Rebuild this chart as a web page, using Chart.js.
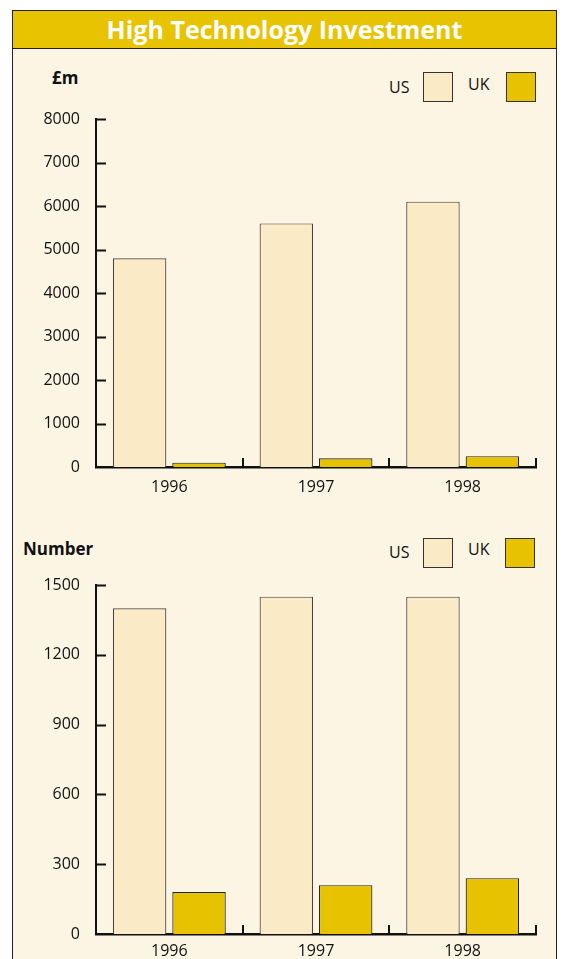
<!DOCTYPE html>
<html>
<head>
<meta charset="utf-8">
<script src="https://cdn.jsdelivr.net/npm/chart.js@4"></script>
<style>
    body { margin: 0; background: #ffffff; font-family: "Open Sans", sans-serif; }
    #page { position: relative; width: 566px; height: 959px; overflow: hidden; }
    .frame { position: absolute; left: 12px; top: 10px; width: 543px; height: 960px;
             border: 1.5px solid #222; background: #fdf5e4; }
    .title { position: absolute; left: 12px; top: 10px; width: 545px; height: 39px;
             background: #e8c300; border: 1.5px solid #222; box-sizing: border-box;
             color: #fff; font-weight: bold; font-size: 25px; text-align: center; line-height: 36px; }
    .unit { position: absolute; font-weight: bold; font-size: 17px; color: #111; }
    .leg-text { position: absolute; font-size: 16px; color: #111; }
    .leg-box { position: absolute; width: 28px; height: 28px; border: 1px solid #333; }
    canvas { position: absolute; left: 0; }
</style>
</head>
<body>
<div id="page">
    <div class="frame"></div>
    <div class="title">High Technology Investment</div>

    <div class="unit" style="left:52px; top:66px;">£m</div>
    <div class="leg-text" style="left:389px; top:76px;">US</div>
    <div class="leg-box" style="left:423px; top:72px; background:#faebc6;"></div>
    <div class="leg-text" style="left:468px; top:73px;">UK</div>
    <div class="leg-box" style="left:506px; top:72px; background:#e6c200;"></div>

    <div class="unit" style="left:23px; top:537px;">Number</div>
    <div class="leg-text" style="left:389px; top:541px;">US</div>
    <div class="leg-box" style="left:423px; top:538px; background:#faebc6;"></div>
    <div class="leg-text" style="left:468px; top:538px;">UK</div>
    <div class="leg-box" style="left:505px; top:538px; background:#e6c200;"></div>

    <canvas id="moneyChart" style="top:50px;" width="566" height="450"></canvas>
    <canvas id="numberChart" style="top:510px;" width="566" height="449"></canvas>
</div>

<script>
// Data
const years = ['1996', '1997', '1998'];
const usInvestment = [4800, 5600, 6100];
const ukInvestment = [100, 200, 250];
const usNumber = [1400, 1450, 1450];
const ukNumber = [180, 210, 240];
const moneyTicks = [0, 1000, 2000, 3000, 4000, 5000, 6000, 7000, 8000];
const numberTicks = [0, 300, 600, 900, 1200, 1500];

const usColor = '#faebc6';
const ukColor = '#e6c200';
const inkColor = '#111';

// Tick marks that point into the plot, like the printed chart
const innerTicks = {
    id: 'innerTicks',
    afterDatasetsDraw(chart) {
        const ctx = chart.ctx;
        const x = chart.scales.x;
        const y = chart.scales.y;
        ctx.save();
        ctx.strokeStyle = inkColor;
        ctx.lineWidth = 2;
        y.ticks.forEach(t => {
            if (t.value === 0) return;
            const py = Math.round(y.getPixelForValue(t.value)) + 0.5;
            ctx.beginPath();
            ctx.moveTo(y.right - 1, py);
            ctx.lineTo(y.right + 10, py);
            ctx.stroke();
        });
        const step = x.width / years.length;
        for (let i = 1; i <= years.length; i++) {
            const px = Math.round(x.getPixelForValue(i - 1) + step / 2);
            ctx.beginPath();
            ctx.moveTo(px, x.top + 1);
            ctx.lineTo(px, x.top - 9);
            ctx.stroke();
        }
        ctx.restore();
    }
};

function makeChart(id, usData, ukData, maxValue, tickValues, topPad, xHeight, xPad) {
    const ctx = document.getElementById(id).getContext('2d');
    return new Chart(ctx, {
        type: 'bar',
        data: {
            labels: years,
            datasets: [{
                label: 'US',
                data: usData,
                backgroundColor: usColor,
                borderColor: '#444',
                borderWidth: 1.2,
                categoryPercentage: 0.81,
                barPercentage: 0.9
            }, {
                label: 'UK',
                data: ukData,
                backgroundColor: ukColor,
                borderColor: '#222',
                borderWidth: 1.2,
                categoryPercentage: 0.81,
                barPercentage: 0.9
            }]
        },
        options: {
            responsive: false,
            animation: false,
            layout: { padding: { top: topPad, right: 30, left: 0, bottom: 0 } },
            plugins: {
                legend: { display: false },
                tooltip: { enabled: false }
            },
            scales: {
                x: {
                    grid: { display: false },
                    border: { display: true, color: inkColor, width: 2.5 },
                    ticks: {
                        color: inkColor,
                        padding: xPad,
                        font: { family: 'Open Sans', size: 16 }
                    },
                    afterFit: function(scale) { scale.height = xHeight; }
                },
                y: {
                    min: 0,
                    max: maxValue,
                    grid: { display: false },
                    border: { display: true, color: inkColor, width: 2 },
                    afterBuildTicks: function(scale) {
                        scale.ticks = tickValues.map(v => ({ value: v }));
                    },
                    ticks: {
                        color: inkColor,
                        padding: 8,
                        font: { family: 'Open Sans', size: 16 },
                        callback: function(value) { return String(value); }
                    },
                    afterFit: function(scale) { scale.width = 96; }
                }
            }
        },
        plugins: [innerTicks]
    });
}

makeChart('moneyChart', usInvestment, ukInvestment, 8000, moneyTicks, 69, 33, 3);
makeChart('numberChart', usNumber, ukNumber, 1500, numberTicks, 75, 25, 0);
</script>
</body>
</html>
